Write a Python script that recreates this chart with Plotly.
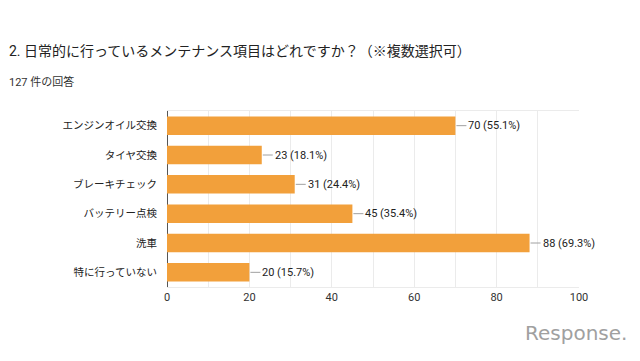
import plotly.graph_objects as go

categories = ["エンジンオイル交換", "タイヤ交換", "ブレーキチェック", "バッテリー点検", "洗車", "特に行っていない"]
counts = [70, 23, 31, 45, 88, 20]
percents = [55.1, 18.1, 24.4, 35.4, 69.3, 15.7]
x_ticks = [0, 20, 40, 60, 80, 100]

title_text = "2. 日常的に行っているメンテナンス項目はどれですか？（※複数選択可）"
subtitle_text = "127 件の回答"

FONT = "Roboto, 'Noto Sans CJK JP', sans-serif"
BAR = "#F2A03B"

W, H = 640, 361
pl, pr, pt, pb = 167, 61, 111, 74
pw, ph = W - pl - pr, H - pt - pb


def px_to_paper(xp, yp):
    return (xp - pl) / pw, (H - pb - yp) / ph


fig = go.Figure()
fig.add_trace(go.Bar(
    x=counts, y=categories, orientation="h",
    marker=dict(color=BAR, line=dict(width=0)),
    hoverinfo="skip",
))

for c, v, p in zip(categories, counts, percents):
    fig.add_annotation(
        x=v, y=c, xref="x", yref="y",
        text=f"{v} ({p}%)",
        showarrow=True, arrowhead=0, arrowwidth=1, arrowcolor="#a0a0a0",
        ax=11, ay=0, xanchor="left", yanchor="middle",
        font=dict(family=FONT, size=11, color="#222"),
        standoff=1,
    )

tx, ty = px_to_paper(7, 51)
fig.add_annotation(x=tx, y=ty, xref="paper", yref="paper", text=title_text,
                   showarrow=False, xanchor="left", yanchor="middle",
                   font=dict(family=FONT, size=14, color="#222"))
sx, sy = px_to_paper(7, 82)
fig.add_annotation(x=sx, y=sy, xref="paper", yref="paper", text=subtitle_text,
                   showarrow=False, xanchor="left", yanchor="middle",
                   font=dict(family=FONT, size=11, color="#333"))
lx, ly = px_to_paper(629, 333)
fig.add_annotation(x=lx, y=ly, xref="paper", yref="paper", text="Response.",
                   showarrow=False, xanchor="right", yanchor="middle",
                   font=dict(family="'DejaVu Sans', sans-serif", size=20, color="#a0a0a0"))

fig.update_layout(
    width=W, height=H,
    margin=dict(l=pl, r=pr, t=pt, b=pb),
    paper_bgcolor="white", plot_bgcolor="white",
    showlegend=False,
    bargap=0.37,
    font=dict(family=FONT, size=11, color="#222"),
    xaxis=dict(
        range=[0, 100], tickvals=x_ticks, ticktext=[str(t) for t in x_ticks],
        showgrid=True, gridcolor="#ebebeb", gridwidth=1,
        minor=dict(dtick=10, showgrid=True, gridcolor="#ebebeb"),
        zeroline=True, zerolinecolor="#555", zerolinewidth=1,
        showline=True, mirror=True, linecolor="#ebebeb",
        ticks="", tickfont=dict(size=11, color="#333"),
        fixedrange=True, automargin=False,
    ),
    yaxis=dict(
        categoryorder="array", categoryarray=categories, autorange="reversed",
        showgrid=False, zeroline=False, ticks="", ticklabelstandoff=9,
        tickfont=dict(size=10.5, color="#222"),
        fixedrange=True, automargin=False,
    ),
)

fig.write_html("out.html", config={"displayModeBar": False, "staticPlot": True},
               post_script="document.body.style.margin='0';document.body.style.padding='0';")
